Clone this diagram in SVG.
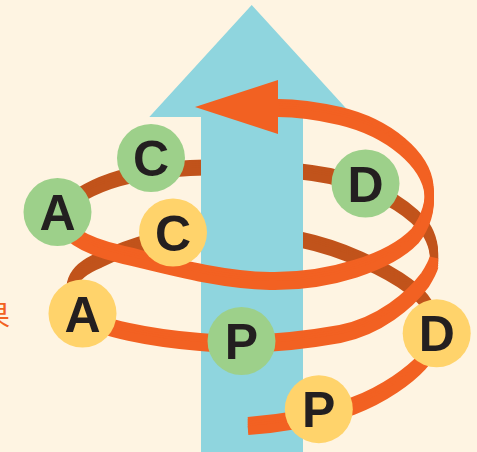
<svg xmlns="http://www.w3.org/2000/svg" xmlns:xlink="http://www.w3.org/1999/xlink" width="477" height="452" viewBox="0 0 477 452">
  <style>
    .bg { fill: #fef4e2; }
    .axis { fill: #8fd5de; }
    .front { fill: none; stroke: #f26122; stroke-width: 9; stroke-linecap: butt; }
    .back { fill: none; stroke: #c1531b; stroke-width: 8; stroke-linecap: butt; }
    .head { fill: #f26122; }
    .green { fill: #9dd08a; }
    .yellow { fill: #ffd36b; }
    .letter { font-family: "Liberation Sans", Arial, sans-serif; font-weight: bold; font-size: 50px; fill: #231f20; text-anchor: middle; }
    .side { font-family: "Noto Sans CJK SC", "Noto Sans", sans-serif; font-size: 28px; fill: #f26122; text-anchor: end; }
  </style>
  <defs>
    <!-- centre lines of the ribbon, bottom turn to top turn -->
    <path id="s1" d="M248,426 C275,424 320,418 353,406 C385,394 410,375 422,362 C432,351 437,342 440,332"/>
    <path id="s2" d="M440,335 C436,318 428,300 410,287 C385,268 340,248 302,240 C270,234 230,232 201,233 C170,234 130,245 100,260 C70,272 62,292 80,315"/>
    <path id="s3" d="M80,315 C100,328 150,338 200,342 C240,346 290,343 340,334 C380,326 410,300 425,280 C430,272 433,266 434,262"/>
    <path id="s4" d="M434,262 C435,248 432,236 422,224 C404,204 372,186 330,176 C290,168 230,166 190,168 C140,171 95,178 57,212"/>
    <path id="s5" d="M57,212 C62,235 90,247 120,254 C170,266 220,280 270,281 C330,282 390,262 415,236 C426,222 431,205 429,190 C426,160 390,128 340,116 C318,111 298,108 278,108"/>
  </defs>

  <rect class="bg" x="0" y="0" width="477" height="452"/>

  <text class="side" x="10" y="326">果</text>

  <!-- far side of the ribbon, hidden behind the axis -->
  <g id="spiral-back" class="back">
    <use xlink:href="#s2" y="-4"/><use xlink:href="#s2" y="-2"/><use xlink:href="#s2"/><use xlink:href="#s2" y="2"/><use xlink:href="#s2" y="4"/>
    <use xlink:href="#s4" y="-4"/><use xlink:href="#s4" y="-2"/><use xlink:href="#s4"/><use xlink:href="#s4" y="2"/><use xlink:href="#s4" y="4"/>
  </g>

  <!-- upward axis arrow -->
  <polygon id="axis-arrow" class="axis" points="251.7,5 354,117 303,117 303,452 201,452 201,117 149.3,117"/>

  <!-- near side of the ribbon, ending in the arrowhead -->
  <g id="spiral-front">
    <g class="front">
      <use xlink:href="#s1" y="-4.5"/><use xlink:href="#s1" y="-2.25"/><use xlink:href="#s1"/><use xlink:href="#s1" y="2.25"/><use xlink:href="#s1" y="4.5"/>
      <use xlink:href="#s3" y="-4.5"/><use xlink:href="#s3" y="-2.25"/><use xlink:href="#s3"/><use xlink:href="#s3" y="2.25"/><use xlink:href="#s3" y="4.5"/>
      <use xlink:href="#s5" y="-4.5"/><use xlink:href="#s5" y="-2.25"/><use xlink:href="#s5"/><use xlink:href="#s5" y="2.25"/><use xlink:href="#s5" y="4.5"/>
    </g>
    <polygon class="head" points="195,107 278,80 278,134"/>
  </g>

  <!-- stage markers -->
  <g id="node-c-upper"><circle class="green" cx="151" cy="158" r="34"/><text class="letter" x="151" y="176">C</text></g>
  <g id="node-a-upper"><circle class="green" cx="57.5" cy="212" r="34"/><text class="letter" x="57.5" y="230">A</text></g>
  <g id="node-d-upper"><circle class="green" cx="365.5" cy="183.5" r="34"/><text class="letter" x="365.5" y="201.5">D</text></g>
  <g id="node-c-lower"><circle class="yellow" cx="173" cy="232.5" r="34"/><text class="letter" x="173" y="250.5">C</text></g>
  <g id="node-a-lower"><circle class="yellow" cx="82.5" cy="313.5" r="34"/><text class="letter" x="82.5" y="331.5">A</text></g>
  <g id="node-p-upper"><circle class="green" cx="241.5" cy="341" r="34"/><text class="letter" x="241.5" y="359">P</text></g>
  <g id="node-d-lower"><circle class="yellow" cx="436.7" cy="333.3" r="34"/><text class="letter" x="436.7" y="351.3">D</text></g>
  <g id="node-p-lower"><circle class="yellow" cx="318.8" cy="409.2" r="34"/><text class="letter" x="318.8" y="427.2">P</text></g>
</svg>
